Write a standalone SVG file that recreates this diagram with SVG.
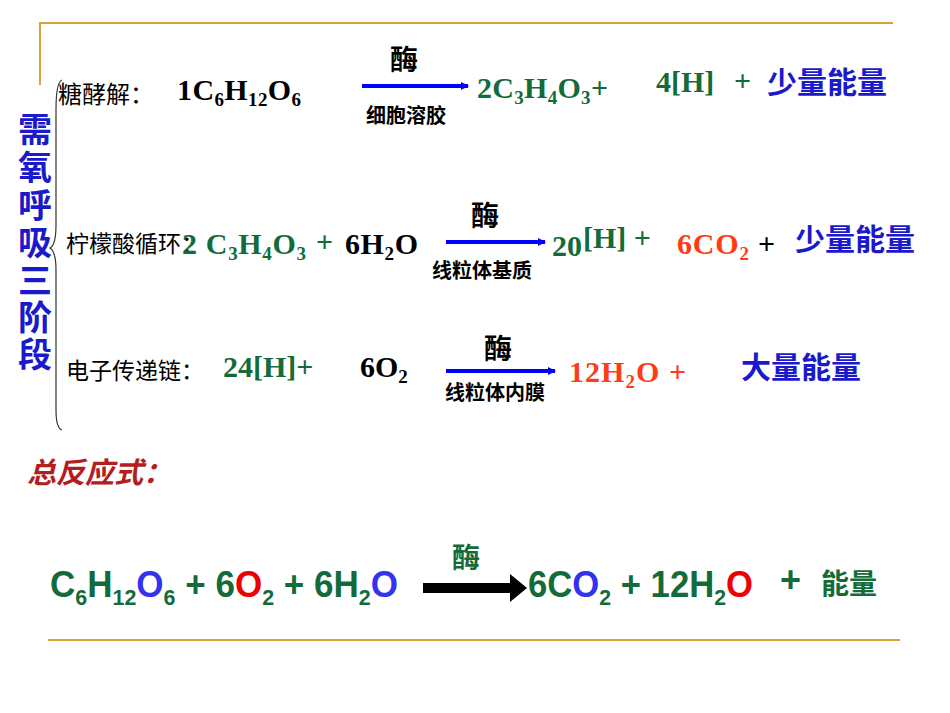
<svg xmlns="http://www.w3.org/2000/svg" width="950" height="713" viewBox="0 0 950 713">
<style>
.f{font-family:"Liberation Serif","Times New Roman",serif;font-weight:bold;font-size:30px}
.c{font-family:"Noto Sans CJK SC","Noto Sans",sans-serif}
.s{font-size:19px}
.g{fill:#146b3a}.b{fill:#1a1acc}.k{fill:#000}.o{fill:#ff3c14}
.n{font-family:"Liberation Sans Narrow","Liberation Sans",sans-serif;font-size:36px;font-weight:bold}
</style>
<defs>
<marker id="ah" markerWidth="8" markerHeight="8" refX="7" refY="4" orient="auto" markerUnits="userSpaceOnUse"><path d="M0,0 L8,4 L0,8Z" fill="#0000ff"/></marker>
</defs>
<g id="frame" fill="none" stroke="#d4a437" stroke-width="2">
<path d="M40,85 V23 H893"/><path d="M48,640 H900"/>
</g>
<g id="title">
<text class="c b" font-size="34" font-weight="bold" text-anchor="middle"><tspan x="35" y="142">需</tspan><tspan x="35" y="180">氧</tspan><tspan x="35" y="218">呼</tspan><tspan x="35" y="255">吸</tspan><tspan x="35" y="293">三</tspan><tspan x="35" y="330">阶</tspan><tspan x="35" y="367">段</tspan></text>
<path d="M62,80 Q56,82 56,110 V225 Q56,245 50,248 Q56,252 56,270 V410 Q56,428 62,430" fill="none" stroke="#333" stroke-width="1.2"/>
</g>
<g id="connectors" stroke="#0000ff" stroke-width="4">
<line x1="362" y1="86" x2="468" y2="86" marker-end="url(#ah)"/>
<line x1="446" y1="242" x2="545" y2="242" marker-end="url(#ah)"/>
<line x1="446" y1="371" x2="555" y2="371" marker-end="url(#ah)"/>
<path d="M423,583 H510 V574 L527,588 L510,602 V593 H423Z" fill="#000" stroke="none"/>
</g>
<g id="row1">
<text class="c k" font-size="24" x="58" y="103">糖酵解：</text>
<text class="f k" x="177" y="100" textLength="124">1C<tspan class="s" dy="6">6</tspan><tspan dy="-6">H</tspan><tspan class="s" dy="6">12</tspan><tspan dy="-6">O</tspan><tspan class="s" dy="6">6</tspan></text>
<text class="c k" font-size="28" x="390" y="70" font-weight="bold">酶</text>
<text class="c k" font-size="20" x="366" y="123" font-weight="bold">细胞溶胶</text>
<text class="f g" x="477" y="98" textLength="131">2C<tspan class="s" dy="6">3</tspan><tspan dy="-6">H</tspan><tspan class="s" dy="6">4</tspan><tspan dy="-6">O</tspan><tspan class="s" dy="6">3</tspan><tspan dy="-6">+</tspan></text>
<text class="f g" x="656" y="92">4[H]</text>
<text class="f g" x="734" y="91">+</text>
<text class="c b" font-size="30" font-weight="bold" x="767" y="93">少量能量</text>
</g>
<g id="row2">
<text class="c k" font-size="23" x="66" y="252">柠檬酸循环：</text>
<text class="f g" x="182" y="254" textLength="124">2 C<tspan class="s" dy="6">3</tspan><tspan dy="-6">H</tspan><tspan class="s" dy="6">4</tspan><tspan dy="-6">O</tspan><tspan class="s" dy="6">3</tspan></text>
<text class="f g" x="316" y="252">+</text>
<text class="f k" x="345" y="254" textLength="73">6H<tspan class="s" dy="6">2</tspan><tspan dy="-6">O</tspan></text>
<text class="c k" font-size="28" x="471" y="226" font-weight="bold">酶</text>
<text class="c k" font-size="20" x="432" y="278" font-weight="bold">线粒体基质</text>
<text class="f g" x="552" y="256">20</text>
<text class="f g" x="583" y="248">[H] +</text>
<text class="f o" x="677" y="254" textLength="72">6CO<tspan class="s" dy="6">2</tspan></text>
<text class="f k" x="758" y="254">+</text>
<text class="c b" font-size="30" font-weight="bold" x="795" y="250">少量能量</text>
</g>
<g id="row3">
<text class="c k" font-size="23" x="66" y="379">电子传递链：</text>
<text class="f g" x="223" y="377">24[H]+</text>
<text class="f k" x="360" y="377">6O<tspan class="s" dy="6">2</tspan></text>
<text class="c k" font-size="28" x="484" y="359" font-weight="bold">酶</text>
<text class="c k" font-size="20" x="445" y="400" font-weight="bold">线粒体内膜</text>
<text class="f o" x="569" y="382" textLength="117">12H<tspan class="s" dy="6">2</tspan><tspan dy="-6">O +</tspan></text>
<text class="c b" font-size="30" font-weight="bold" x="741" y="378">大量能量</text>
</g>
<g id="total">
<text class="c" font-size="29" font-weight="bold" font-style="italic" fill="#b41e1e" x="27" y="483">总反应式：</text>
<text class="n g" x="50" y="597" textLength="348" lengthAdjust="spacingAndGlyphs">C<tspan font-size="22" dy="8">6</tspan><tspan dy="-8">H</tspan><tspan font-size="22" dy="8">12</tspan><tspan dy="-8" fill="#3333ee">O</tspan><tspan font-size="22" dy="8">6</tspan><tspan dy="-8"> + 6</tspan><tspan fill="#ee0000">O</tspan><tspan font-size="22" dy="8">2</tspan><tspan dy="-8"> + 6H</tspan><tspan font-size="22" dy="8">2</tspan><tspan dy="-8" fill="#3333ee">O</tspan></text>
<text class="c g" font-size="28" font-weight="bold" x="452" y="568">酶</text>
<text class="n g" x="528" y="597" textLength="225" lengthAdjust="spacingAndGlyphs">6C<tspan fill="#3333ee">O</tspan><tspan font-size="22" dy="8">2</tspan><tspan dy="-8"> + 12H</tspan><tspan font-size="22" dy="8">2</tspan><tspan dy="-8" fill="#ee0000">O</tspan></text>
<text class="n g" font-size="28" x="780" y="592">+</text>
<text class="c g" font-size="28" font-weight="bold" x="821" y="594">能量</text>
</g>
</svg>
